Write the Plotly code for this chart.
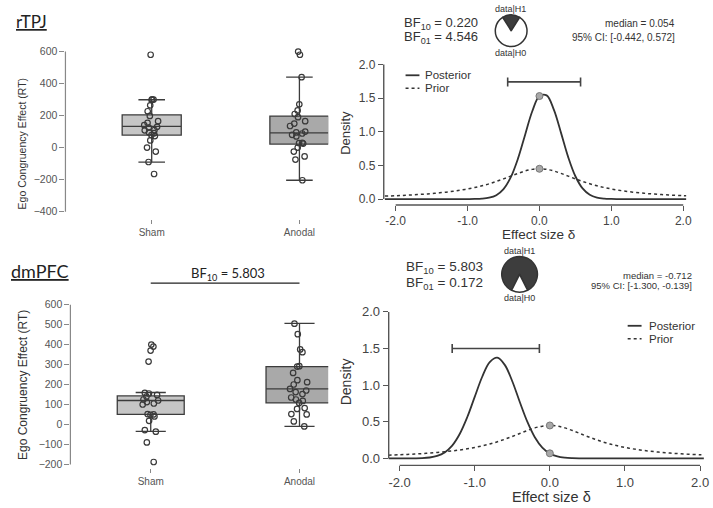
import plotly.graph_objects as go

W, H = 713, 508

# ---------------- data ----------------
groups = ["Sham", "Anodal"]

# rTPJ box-plot summaries (Ego congruency effect, RT)
rtpj_lower = [-91, -204]
rtpj_q1 = [78, 22]
rtpj_median = [132, 92]
rtpj_q3 = [205, 197]
rtpj_upper = [299, 440]
rtpj_sham = [580, 301, 298, 300, 264, 227, 198, 165, 155, 140, 130, 125, 110,
             108, 95, 90, 78, 72, 45, 0, -25, -90, -165]
rtpj_anodal = [600, 580, 440, 270, 232, 210, 190, 165, 150, 135, 100, 95, 88,
               80, 70, 30, 25, 28, 0, -25, -55, -75, -204]

# dmPFC box-plot summaries
dmpfc_lower = [-35, -10]
dmpfc_q1 = [50, 108]
dmpfc_median = [120, 178]
dmpfc_q3 = [143, 290]
dmpfc_upper = [160, 506]
dmpfc_sham = [400, 390, 370, 315, 158, 155, 148, 140, 125, 120, 112, 105, 100,
              52, 50, 48, 40, 18, -28, -36, -90, -188]
dmpfc_anodal = [505, 452, 376, 362, 292, 290, 258, 222, 212, 200, 178, 170, 162,
                152, 135, 125, 118, 108, 82, 78, 50, 52, 15, -10]
dmpfc_bf_label = 5.803

# effect-size grid and densities
delta = [-2.15, -2.0, -1.9, -1.8, -1.7, -1.6, -1.5, -1.4, -1.3, -1.2, -1.1,
         -1.0, -0.9, -0.8, -0.7, -0.6, -0.5, -0.4, -0.3, -0.2, -0.1, 0.0,
         0.1, 0.2, 0.3, 0.4, 0.5, 0.6, 0.7, 0.8, 0.9, 1.0, 1.1, 1.2, 1.3,
         1.4, 1.5, 1.6, 1.7, 1.8, 1.9, 2.0, 2.05]
prior_density = [0.0439, 0.050, 0.0547, 0.0602, 0.0664, 0.0735, 0.0818, 0.0915,
                 0.1027, 0.116, 0.1316, 0.150, 0.172, 0.197, 0.227, 0.262, 0.300,
                 0.341, 0.381, 0.417, 0.441, 0.450, 0.441, 0.417, 0.381, 0.341,
                 0.300, 0.262, 0.227, 0.197, 0.172, 0.150, 0.1316, 0.116, 0.1027,
                 0.0915, 0.0818, 0.0735, 0.0664, 0.0602, 0.0547, 0.050, 0.0478]
rtpj_posterior = [0, 0, 0, 0, 0, 0, 0, 0, 0, 0, 0,
                  0.0003, 0.0014, 0.0057, 0.020, 0.058, 0.148, 0.321, 0.597,
                  0.953, 1.304, 1.530, 1.540, 1.328, 0.983, 0.623, 0.339, 0.158,
                  0.063, 0.022, 0.0064, 0.0015, 0.0003,
                  0, 0, 0, 0, 0, 0, 0, 0, 0, 0]
dmpfc_posterior = [0, 0.0001, 0.0003, 0.0012, 0.0041, 0.0127, 0.034, 0.0825,
                   0.176, 0.334, 0.562, 0.840, 1.115, 1.314, 1.375, 1.277, 1.054,
                   0.771, 0.502, 0.290, 0.148, 0.0675, 0.027, 0.0098, 0.0031,
                   0.0009, 0.0002,
                   0, 0, 0, 0, 0, 0, 0, 0, 0, 0, 0, 0, 0, 0, 0, 0]

rtpj_bf = [0.220, 4.546]          # BF10, BF01
dmpfc_bf = [5.803, 0.172]
rtpj_delta_median = 0.054
rtpj_ci = [-0.442, 0.572]
dmpfc_delta_median = -0.712
dmpfc_ci = [-1.300, -0.139]
rtpj_sd_points = [1.53, 0.45]     # posterior, prior density at delta = 0
dmpfc_sd_points = [0.07, 0.45]
legend_names = ["Posterior", "Prior"]

x_ticks = [-2, -1, 0, 1, 2]
x_ticktext = ["-2.0", "-1.0", "0.0", "1.0", "2.0"]
y_ticks = [0, 0.5, 1, 1.5, 2]
y_ticktext = ["0.0", "0.5", "1.0", "1.5", "2.0"]
rtpj_rt_ticks = [-400, -200, 0, 200, 400, 600]
dmpfc_rt_ticks = [-200, -100, 0, 100, 200, 300, 400, 500, 600]

# ---------------- styling ----------------
BASE = "Liberation Sans, Arial, sans-serif"
TITLE = "Lato, Open Sans, sans-serif"
DARK = "#333333"
BOX_LINE = "#3c3c3c"
FILLS = ["#c6c6c6", "#a9a9a9"]


def px_x(p):
    return p / W


def px_y(p):
    return 1 - p / H


fig = go.Figure()


def add_boxes(xa, ya, lower, q1, med, q3, upper, pts_list, width):
    for i, g in enumerate(groups):
        fig.add_trace(go.Box(
            x=[g], q1=[q1[i]], median=[med[i]], q3=[q3[i]],
            lowerfence=[lower[i]], upperfence=[upper[i]],
            width=width, whiskerwidth=0.45, fillcolor=FILLS[i],
            line=dict(color=BOX_LINE, width=1.3), boxpoints=False,
            xaxis=xa, yaxis=ya, showlegend=False, hoverinfo="skip"))
    for i, g in enumerate(groups):
        pts = pts_list[i]
        fig.add_trace(go.Box(
            x=[g] * len(pts), y=pts, boxpoints="all", jitter=0.35, pointpos=0,
            width=width, fillcolor="rgba(0,0,0,0)",
            line=dict(width=0, color="rgba(0,0,0,0)"),
            marker=dict(size=5.5, color="rgba(0,0,0,0)",
                        line=dict(color="#3a3a3a", width=1.2)),
            xaxis=xa, yaxis=ya, showlegend=False, hoverinfo="skip"))


add_boxes("x", "y", rtpj_lower, rtpj_q1, rtpj_median, rtpj_q3, rtpj_upper,
          [rtpj_sham, rtpj_anodal], 0.4)
add_boxes("x3", "y3", dmpfc_lower, dmpfc_q1, dmpfc_median, dmpfc_q3, dmpfc_upper,
          [dmpfc_sham, dmpfc_anodal], 0.45)

POST_LINE = dict(color=DARK, width=1.8, shape="spline")
PRIOR_LINE = dict(color=DARK, width=1.5, dash="dot", shape="spline")


def add_density(xa, ya, post, sdp, med, ci, ci_level):
    fig.add_trace(go.Scatter(
        x=delta, y=post, mode="lines", line=POST_LINE, name=legend_names[0],
        xaxis=xa, yaxis=ya, showlegend=False, hoverinfo="skip"))
    fig.add_trace(go.Scatter(
        x=delta, y=prior_density, mode="lines", line=PRIOR_LINE, name=legend_names[1],
        xaxis=xa, yaxis=ya, showlegend=False, hoverinfo="skip"))
    fig.add_trace(go.Scatter(
        x=[0, 0], y=sdp, mode="markers",
        marker=dict(size=7, color="#a8a8a8", line=dict(color="#777777", width=1)),
        xaxis=xa, yaxis=ya, showlegend=False, hoverinfo="skip"))
    fig.add_trace(go.Scatter(
        x=[med], y=[ci_level], mode="markers",
        marker=dict(size=1, color="rgba(0,0,0,0)"),
        error_x=dict(type="data", symmetric=False, array=[ci[1] - med],
                     arrayminus=[med - ci[0]], width=4.5, thickness=1.6, color="#444444"),
        xaxis=xa, yaxis=ya, showlegend=False, hoverinfo="skip"))


add_density("x2", "y2", rtpj_posterior, rtpj_sd_points, rtpj_delta_median, rtpj_ci, 1.74)
add_density("x4", "y4", dmpfc_posterior, dmpfc_sd_points, dmpfc_delta_median, dmpfc_ci, 1.50)


def add_pie(bf10, dom_x, dom_y):
    vals = [bf10, 1.0]
    dark_angle = 360 * vals[0] / sum(vals)
    fig.add_trace(go.Pie(
        values=vals, sort=False, direction="clockwise", rotation=-dark_angle / 2,
        domain=dict(x=[px_x(dom_x[0]), px_x(dom_x[1])], y=[px_y(dom_y[1]), px_y(dom_y[0])]),
        marker=dict(colors=["#3d3d3d", "#ffffff"], line=dict(color="#333333", width=1.5)),
        textinfo="none", hoverinfo="skip", showlegend=False))


add_pie(rtpj_bf[0], (497, 534), (12, 44))
add_pie(dmpfc_bf[0], (505, 543), (256, 292))

# ---------------- axes ----------------
tick_font_box = dict(family=BASE, size=10.5, color="#555555")
common_box_x = dict(type="category", showgrid=False, zeroline=False, showline=False,
                    ticks="outside", ticklen=4, tickcolor="#888888",
                    tickfont=dict(family=BASE, size=10, color="#555555"))
common_box_y = dict(showgrid=False, zeroline=False, showline=False, ticks="outside",
                    ticklen=5, tickcolor="#888888", tickfont=tick_font_box)

fig.update_layout(
    xaxis=dict(domain=[px_x(66), px_x(331)], range=[-0.584, 1.195], anchor="y", **common_box_x),
    yaxis=dict(domain=[px_y(218), px_y(44)], range=[-445, 631], anchor="x",
               tickvals=rtpj_rt_ticks, **common_box_y),
    xaxis3=dict(domain=[px_x(71), px_x(331)], range=[-0.54, 1.193], anchor="y3", **common_box_x),
    yaxis3=dict(domain=[px_y(470), px_y(298)], range=[-220, 633], anchor="x3",
                tickvals=dmpfc_rt_ticks, **common_box_y),
)

dens_common = dict(showgrid=False, zeroline=False, showline=False, ticks="outside",
                   ticklen=5, tickcolor="#555555")
fig.update_layout(
    xaxis2=dict(domain=[px_x(387), px_x(692)], range=[-2.166, 2.041], anchor="y2",
                tickvals=x_ticks, ticktext=x_ticktext,
                tickfont=dict(family=BASE, size=12, color="#444444"), **dens_common),
    yaxis2=dict(domain=[px_y(204), px_y(58)], range=[-0.088, 2.059], anchor="x2",
                tickvals=y_ticks, ticktext=y_ticktext,
                tickfont=dict(family=BASE, size=12, color="#444444"), **dens_common),
    xaxis4=dict(domain=[px_x(392), px_x(712)], range=[-2.145, 2.079], anchor="y4",
                tickvals=x_ticks, ticktext=x_ticktext,
                tickfont=dict(family=BASE, size=13, color="#444444"), **dens_common),
    yaxis4=dict(domain=[px_y(467), px_y(308)], range=[-0.095, 2.054], anchor="x4",
                tickvals=y_ticks, ticktext=y_ticktext,
                tickfont=dict(family=BASE, size=13, color="#444444"), **dens_common),
)

shapes = [
    # R-style axis lines spanning the tick range
    dict(type="line", xref="x domain", yref="y", x0=0, x1=0,
         y0=rtpj_rt_ticks[0], y1=rtpj_rt_ticks[-1], line=dict(color="#888888", width=1.2)),
    dict(type="line", xref="x3 domain", yref="y3", x0=0, x1=0,
         y0=dmpfc_rt_ticks[0], y1=dmpfc_rt_ticks[-1], line=dict(color="#888888", width=1.2)),
    dict(type="line", xref="x2", yref="y2 domain", x0=x_ticks[0], x1=x_ticks[-1],
         y0=0, y1=0, line=dict(color="#555555", width=1.4)),
    dict(type="line", xref="x2 domain", yref="y2", x0=0, x1=0,
         y0=y_ticks[0], y1=y_ticks[-1], line=dict(color="#555555", width=1.4)),
    dict(type="line", xref="x4", yref="y4 domain", x0=x_ticks[0], x1=x_ticks[-1],
         y0=0, y1=0, line=dict(color="#555555", width=1.4)),
    dict(type="line", xref="x4 domain", yref="y4", x0=0, x1=0,
         y0=y_ticks[0], y1=y_ticks[-1], line=dict(color="#555555", width=1.4)),
    # BF comparison bar over the dmPFC groups
    dict(type="line", xref="x3", yref="paper", x0=groups[0], x1=groups[1],
         y0=px_y(283), y1=px_y(283), line=dict(color="#222222", width=1.3)),
]


def ann(text, px, py, size, xanchor="center", family=BASE, color=DARK, angle=0):
    return dict(text=text, x=px_x(px), y=px_y(py), xref="paper", yref="paper",
                xanchor=xanchor, yanchor="middle", showarrow=False, textangle=angle,
                font=dict(size=size, family=family, color=color))


annotations = [
    ann("<u>rTPJ</u>", 14, 19, 17, "left", TITLE, "#222222"),
    ann("<u>dmPFC</u>", 9, 271, 18, "left", TITLE, "#222222"),
    ann("BF<sub>10</sub> = %.3f" % dmpfc_bf_label, 230, 274, 13, "center", TITLE, "#222222"),
    ann("Ego Congruency Effect (RT)", 22, 142, 10.5, angle=-90),
    ann("Ego Congruency Effect (RT)", 23, 386, 12, angle=-90),
    ann("Density", 349, 131, 13, angle=-90),
    ann("Density", 349, 383, 14, angle=-90),
    ann("Effect size δ", 543, 234, 13.5),
    ann("Effect size δ", 556, 499, 14.5),
    ann("BF<sub>10</sub> = %.3f" % rtpj_bf[0], 405, 21, 13, "left"),
    ann("BF<sub>01</sub> = %.3f" % rtpj_bf[1], 405, 35, 13, "left"),
    ann("BF<sub>10</sub> = %.3f" % dmpfc_bf[0], 407, 267, 13.5, "left"),
    ann("BF<sub>01</sub> = %.3f" % dmpfc_bf[1], 407, 283, 13.5, "left"),
    ann("data|H1", 515, 6, 9),
    ann("data|H0", 515, 50, 9),
    ann("data|H1", 524, 250, 9),
    ann("data|H0", 524, 298, 9),
    ann("median = %.3f" % rtpj_delta_median, 683, 21, 10, "right"),
    ann("95%% CI: [%.3f, %.3f]" % tuple(rtpj_ci), 683, 35, 10, "right"),
    ann("median = %.3f" % dmpfc_delta_median, 700, 275, 9.5, "right"),
    ann("95%% CI: [%.3f, %.3f]" % tuple(dmpfc_ci), 700, 285, 9.5, "right"),
]

# hand-drawn legend keys (line sample + label) for both density panels
for (lx0, lx1, tx, ys, fs) in [(409, 423, 427, (73, 86), 11.5), (633, 647, 652, (326, 339), 11.5)]:
    for name, y, style in zip(legend_names, ys, [POST_LINE, PRIOR_LINE]):
        shapes.append(dict(type="line", xref="paper", yref="paper",
                           x0=px_x(lx0), x1=px_x(lx1), y0=px_y(y), y1=px_y(y),
                           line=dict(color=style["color"], width=style["width"],
                                     dash=style.get("dash", "solid"))))
        annotations.append(ann(name, tx, y, fs, "left"))

fig.update_layout(
    width=W, height=H, autosize=False,
    margin=dict(l=0, r=0, t=0, b=0),
    paper_bgcolor="white", plot_bgcolor="white",
    font=dict(family=BASE, color=DARK),
    boxmode="overlay", showlegend=False,
    shapes=shapes, annotations=annotations,
)

fig.write_html("out.html",
               config={"displayModeBar": False},
               post_script="document.body.style.margin='0px';document.body.style.overflow='hidden';")
